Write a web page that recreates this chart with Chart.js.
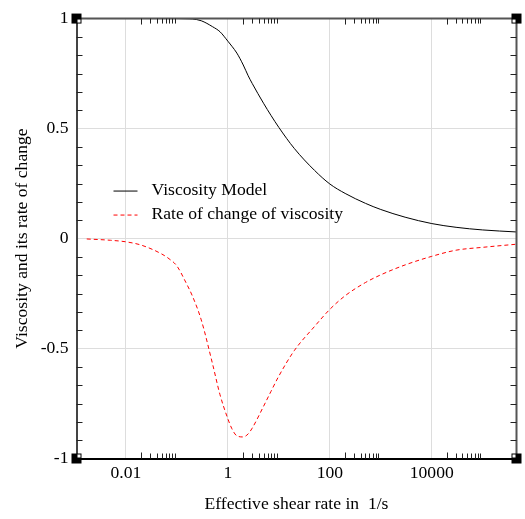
<!DOCTYPE html>
<html>
<head>
<meta charset="utf-8">
<script src="https://cdn.jsdelivr.net/npm/chart.js@4"></script>
<style>
  body { margin: 0; background: #fff; }
  #wrap { width: 525px; height: 519px; }
</style>
</head>
<body>
<div id="wrap"><canvas id="chart" width="525" height="519"></canvas></div>
<script>
// data
const shearRate = [0.0017, 0.005, 0.01, 0.02, 0.05, 0.07, 0.1, 0.15, 0.2, 0.3, 0.5, 0.7, 1, 1.2, 1.5, 2, 2.5, 3, 5, 7, 10, 20, 50, 100, 200, 500, 1000, 3000, 10000, 30000, 100000, 450000]
const viscosity = [1, 1, 1, 1, 1, 1, 1, 0.999, 0.998, 0.99, 0.963, 0.94, 0.897, 0.874, 0.843, 0.789, 0.74, 0.705, 0.615, 0.56, 0.505, 0.41, 0.31, 0.248, 0.205, 0.16, 0.132, 0.097, 0.068, 0.051, 0.039, 0.03]
const rateOfChange = [-0.002, -0.008, -0.015, -0.03, -0.07, -0.092, -0.125, -0.2, -0.26, -0.37, -0.57, -0.71, -0.82, -0.865, -0.897, -0.902, -0.888, -0.862, -0.763, -0.695, -0.625, -0.51, -0.40, -0.322, -0.26, -0.20, -0.165, -0.12, -0.081, -0.053, -0.04, -0.026]

const xTickValues = [0.01, 1, 100, 10000]
const xTickLabels = ['0.01', '1', '100', '10000']
const yTickValues = [-1, -0.5, 0, 0.5, 1]
const yTickLabels = ['-1', '-0.5', '0', '0.5', '1']
const minorDecades = [-2, 0, 2, 4]

const serif = 'Liberation Serif'
const fontSize = 17.6

const frame = {
    id: 'frame',
    afterDraw(chart) {
        const ctx = chart.ctx
        const { left, right, top, bottom } = chart.chartArea
        const xs = chart.scales.x
        const ys = chart.scales.y
        ctx.save()
        // top and right border
        ctx.strokeStyle = '#555'
        ctx.lineWidth = 2
        ctx.beginPath()
        ctx.moveTo(left, top); ctx.lineTo(right, top); ctx.lineTo(right, bottom)
        ctx.stroke()

        // minor ticks
        ctx.strokeStyle = '#222'
        ctx.lineWidth = 1
        ctx.beginPath()
        minorDecades.forEach(d => {
            for (let m = 2; m <= 9; m++) {
                const px = Math.round(xs.getPixelForValue(m * Math.pow(10, d))) + 0.5
                const len = m === 2 ? 6 : 5
                ctx.moveTo(px, bottom); ctx.lineTo(px, bottom - len)
                ctx.moveTo(px, top); ctx.lineTo(px, top + len)
            }
        })
        for (let i = 1; i < 24; i++) {
            if (i % 6 === 0) continue
            const py = Math.round(ys.getPixelForValue(-1 + i / 12)) + 0.5
            ctx.moveTo(left, py); ctx.lineTo(left + 6, py)
            ctx.moveTo(right, py); ctx.lineTo(right - 6, py)
        }
        ctx.stroke()

        // corner squares
        const corners = [[left, top, 1, 1], [right, top, -1, 1], [left, bottom, 1, -1], [right, bottom, -1, -1]]
        corners.forEach(([cx, cy, dx, dy]) => {
            ctx.fillStyle = '#000'
            ctx.fillRect(cx - 5, cy - 5, 10, 10)
            ctx.fillStyle = '#fff'
            ctx.fillRect(dx > 0 ? cx + 1 : cx - 4, dy > 0 ? cy + 1 : cy - 4, 3, 3)
        })

        // legend
        const lx = left + 37
        let ly = top + 172
        ctx.font = fontSize + 'px "' + serif + '"'
        ctx.textBaseline = 'middle'
        chart.data.datasets.forEach(ds => {
            ctx.strokeStyle = ds.borderColor
            ctx.lineWidth = 1
            ctx.setLineDash(ds.borderDash || [])
            ctx.beginPath()
            ctx.moveTo(lx, ly + 0.5); ctx.lineTo(lx + 24, ly + 0.5)
            ctx.stroke()
            ctx.setLineDash([])
            ctx.fillStyle = '#000'
            ctx.fillText(ds.label, lx + 38, ly)
            ly += 24
        })
        ctx.restore()
    }
}

new Chart(document.getElementById('chart'), {
    type: 'line',
    data: {
        datasets: [{
            label: 'Viscosity Model',
            data: shearRate.map((x, i) => ({ x: x, y: viscosity[i] })),
            borderColor: '#000',
            borderWidth: 1,
            pointRadius: 0,
            cubicInterpolationMode: 'monotone'
        }, {
            label: 'Rate of change of viscosity',
            data: shearRate.map((x, i) => ({ x: x, y: rateOfChange[i] })),
            borderColor: '#ff0000',
            borderWidth: 1,
            borderDash: [4, 3],
            pointRadius: 0,
            cubicInterpolationMode: 'monotone'
        }]
    },
    options: {
        responsive: false,
        animation: false,
        devicePixelRatio: 1,
        layout: { padding: { top: 15.5, right: 8.5, bottom: 0, left: 0 } },
        plugins: { legend: { display: false }, tooltip: { enabled: false } },
        scales: {
            x: {
                type: 'logarithmic',
                min: 0.00107,
                max: 460000,
                afterBuildTicks: s => { s.ticks = xTickValues.map(v => ({ value: v })) },
                afterFit: s => { s.height = 60.5 },
                ticks: {
                    autoSkip: false,
                    maxRotation: 0,
                    padding: 4,
                    color: '#000',
                    font: { family: serif, size: fontSize },
                    callback: (v, i) => xTickLabels[i]
                },
                grid: { color: '#ddd', drawTicks: false },
                border: { color: '#000', width: 2 },
                title: {
                    display: true,
                    text: 'Effective shear rate in  1/s',
                    color: '#000',
                    font: { family: serif, size: fontSize },
                    padding: { top: 0, bottom: 4 }
                }
            },
            y: {
                min: -1,
                max: 1,
                afterBuildTicks: s => { s.ticks = yTickValues.map(v => ({ value: v })) },
                afterFit: s => { s.width = 76.5 },
                ticks: {
                    autoSkip: false,
                    padding: 8,
                    color: '#000',
                    font: { family: serif, size: fontSize },
                    callback: (v, i) => yTickLabels[i]
                },
                grid: {
                    color: c => (c.tick && Math.abs(c.tick.value) === 1) ? 'rgba(0,0,0,0)' : '#ddd',
                    drawTicks: false
                },
                border: { color: '#444', width: 2 },
                title: {
                    display: true,
                    text: 'Viscosity and its rate of change',
                    color: '#000',
                    font: { family: serif, size: fontSize },
                    padding: { top: 12, bottom: 0 }
                }
            }
        }
    },
    plugins: [frame]
})
</script>
</body>
</html>
